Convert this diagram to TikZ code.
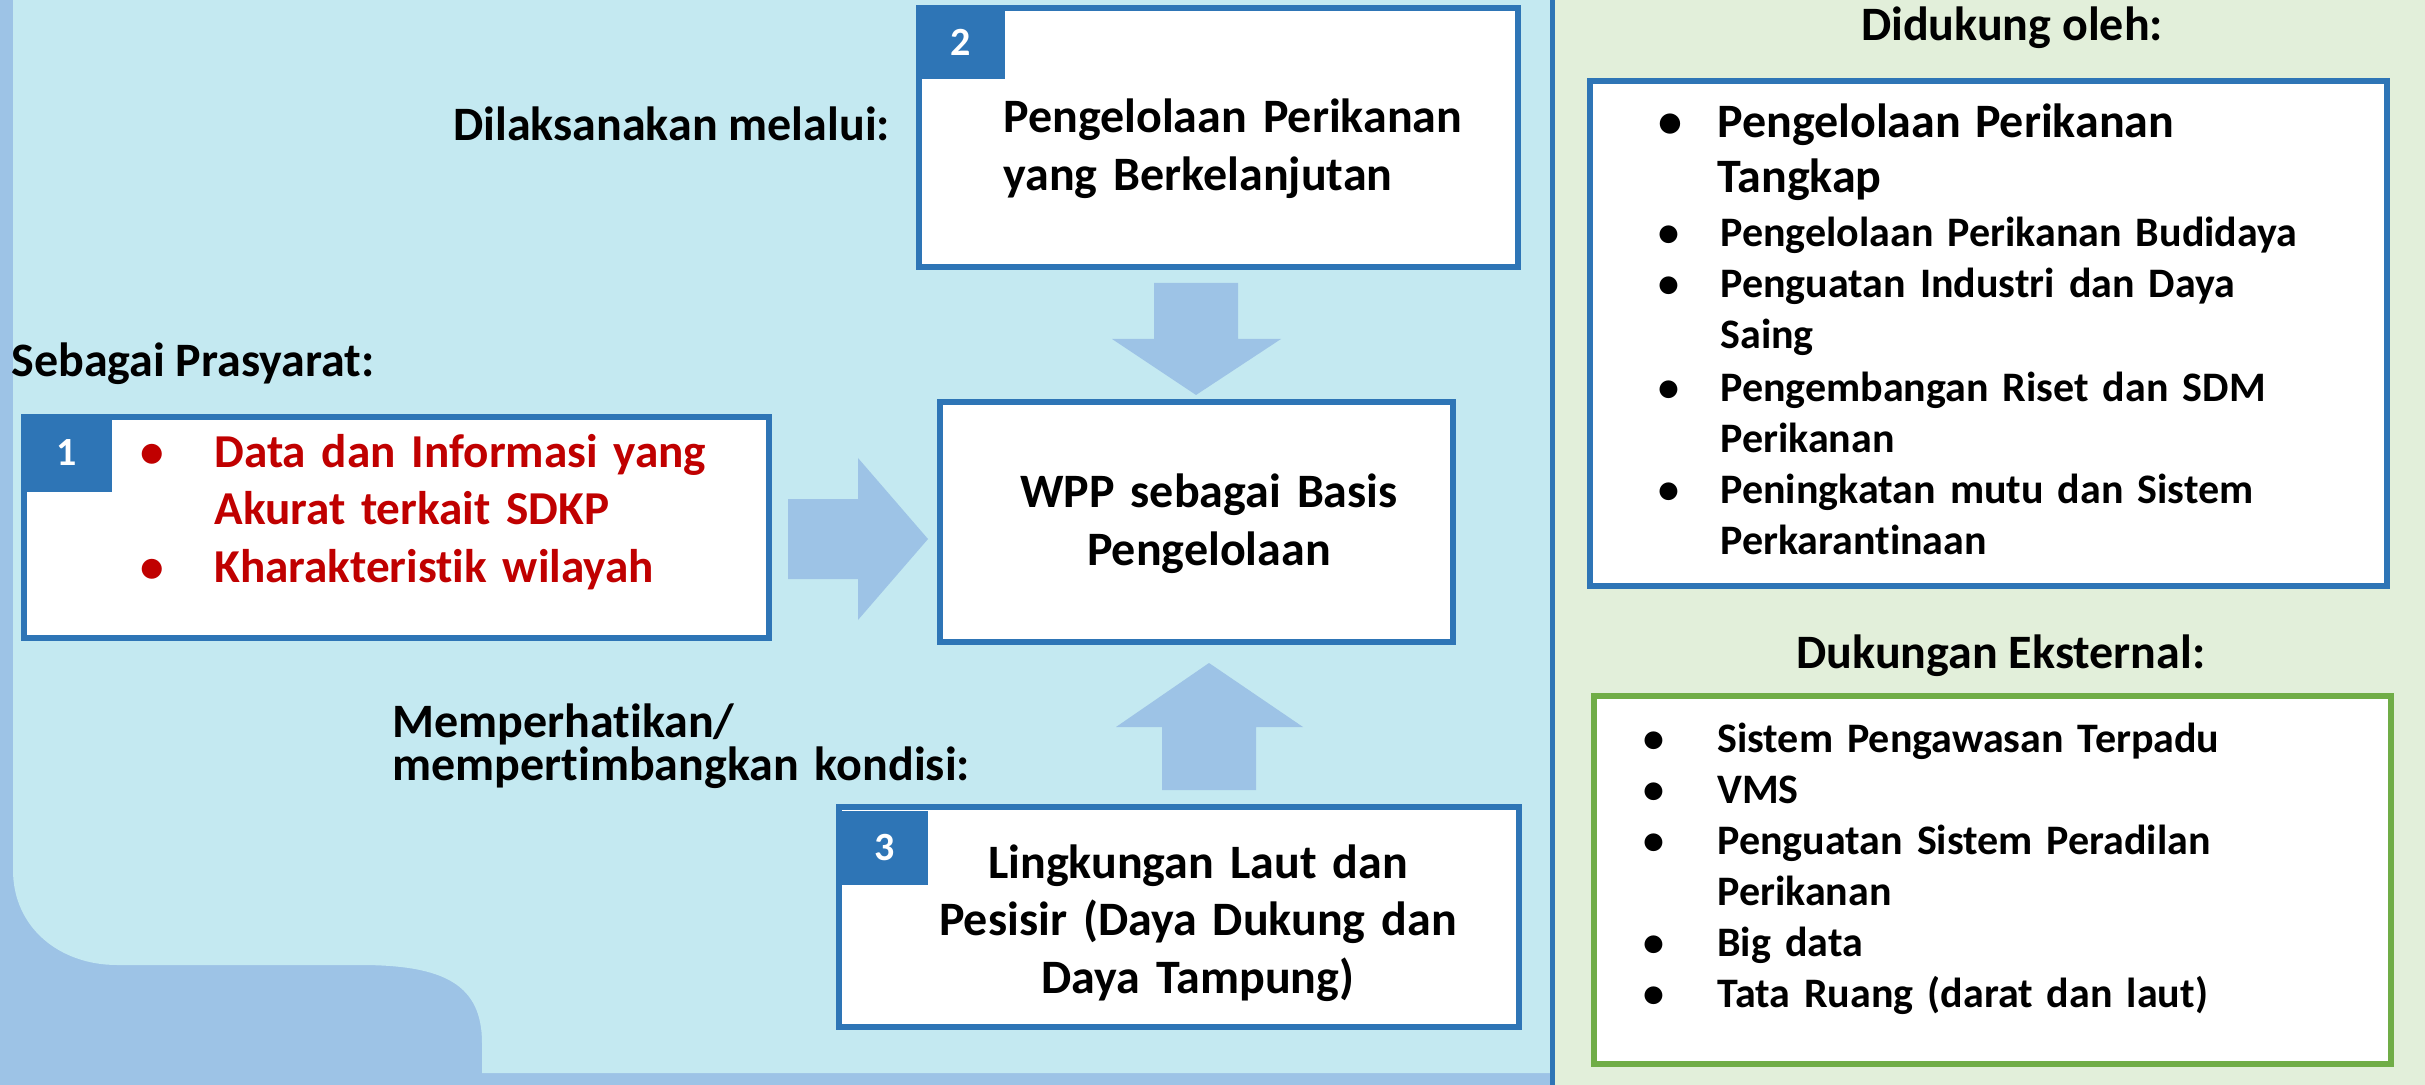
\documentclass[tikz,border=0pt]{standalone}
\usepackage{fontspec}
\setmainfont{Carlito}[Ligatures=NoCommon]
\definecolor{cyanbg}{HTML}{C4E9F1}
\definecolor{stripblue}{HTML}{9DC3E6}
\definecolor{boxblue}{HTML}{2E75B6}
\definecolor{panelgreen}{HTML}{E2EFDA}
\definecolor{boxgreen}{HTML}{70AD47}
\definecolor{redtext}{HTML}{C00000}
\tikzset{
  mybox/.style={draw=boxblue, line width=3pt, fill=white, inner sep=0pt},
  badgebox/.style={fill=boxblue, inner sep=0pt, text=white, font=\fontsize{20}{24}\selectfont\bfseries},
  lbl/.style={inner sep=0pt, text=black, font=\fontsize{24}{29}\selectfont\bfseries},
  blockarrow/.style={fill=stripblue},
}
\begin{document}
\begin{tikzpicture}[x=0.5pt,y=-0.5pt]
\useasboundingbox (0,0) rectangle (2425,1085);
% backgrounds
\fill[stripblue] (0,0) rectangle (1552,1085);
\fill[cyanbg] (13,0) -- (13,870) .. controls (13,928) and (60,965) .. (117,965) -- (360,965) .. controls (445,965) and (482,985) .. (482,1043) -- (482,1073) -- (1552,1073) -- (1552,0) -- cycle;
\fill[panelgreen] (1552,0) rectangle (2425,1085);
\draw[boxblue, line width=2.5pt] (1552,0) -- (1552,1085);
% block arrows
\fill[blockarrow] (788,499) -- (858,499) -- (858,458) -- (928,539) -- (858,620) -- (858,579) -- (788,579) -- cycle;
\fill[blockarrow] (1154,283) -- (1238,283) -- (1238,339) -- (1281,339) -- (1196,395) -- (1112,339) -- (1154,339) -- cycle;
\fill[blockarrow] (1209,663) -- (1303,727) -- (1256,727) -- (1256,790) -- (1162,790) -- (1162,727) -- (1116,727) -- cycle;
% boxes
\node[mybox, minimum width=372.5pt, minimum height=110.5pt] (b1) at (396.5,527.5) {};
\node[mybox, minimum width=299.5pt, minimum height=129.5pt] (b2) at (1218.5,137.5) {};
\node[mybox, minimum width=256.5pt, minimum height=120pt] (wpp) at (1196.5,522) {};
\node[mybox, minimum width=340pt, minimum height=110pt] (b3) at (1179,917) {};
\node[mybox, minimum width=398.5pt, minimum height=252.5pt] (bA) at (1988.5,333.5) {};
\node[mybox, draw=boxgreen, minimum width=398.5pt, minimum height=184pt] (bB) at (1992.5,880) {};
% badges
\node[badgebox, minimum width=45.5pt, minimum height=39pt] (g1) at (66.5,453) {1};
\node[badgebox, minimum width=44.5pt, minimum height=37pt] (g2) at (960.5,42) {2};
\node[badgebox, minimum width=43pt, minimum height=37pt] (g3) at (885,848) {3};
% labels
\node[lbl, anchor=base west] (tdil) at (453,141) {Dilaksanakan melalui:};
\node[lbl, anchor=base west] (tseb) at (11,377) {Sebagai Prasyarat:};
\node[lbl, anchor=base west, text width=320pt, align=left, font=\fontsize{24}{19.5}\selectfont\bfseries] (tmem) at (392,737) {\lineskiplimit=-100pt Memperhatikan/\\mempertimbangkan kondisi:};
\node[lbl, anchor=base west, text width=300pt, align=left, text=redtext, font=\fontsize{23.6}{28.75}\selectfont\bfseries] (l1) at (140,467) {\makebox[37pt][l]{•}Data dan Informasi yang\\\hspace*{37pt}Akurat terkait SDKP\\\makebox[37pt][l]{•}Kharakteristik wilayah};
\node[lbl, anchor=base west, text width=260pt, align=left] (t2) at (1003,133) {Pengelolaan Perikanan\\yang Berkelanjutan};
\node[lbl, anchor=base, text width=240pt, align=center] (tw) at (1209,507) {WPP sebagai Basis\\Pengelolaan};
\node[lbl, anchor=base, text width=300pt, align=center, font=\fontsize{24}{28.75}\selectfont\bfseries] (t3) at (1198,878) {Lingkungan Laut dan\\Pesisir (Daya Dukung dan\\Daya Tampung)};
\node[lbl, anchor=base] (tA) at (2012,41) {Didukung oleh:};
\node[lbl, anchor=base] (tB) at (2001,668) {Dukungan Eksternal:};
\node[lbl, anchor=base west, text width=380pt, align=left, font=\fontsize{21}{25.5}\selectfont\bfseries] (lA) at (1658,138) {{\fontsize{24}{27.5}\selectfont\makebox[29.5pt][l]{•}Pengelolaan Perikanan\\[2pt]\hspace*{29.5pt}Tangkap}\\[1.5pt]
\makebox[31pt][l]{•}Pengelolaan Perikanan Budidaya\\
\makebox[31pt][l]{•}Penguatan Industri dan Daya\\
\hspace*{31pt}Saing\\[1pt]
\makebox[31pt][l]{•}Pengembangan Riset dan SDM\\
\hspace*{31pt}Perikanan\\
\makebox[31pt][l]{•}Peningkatan mutu dan Sistem\\
\hspace*{31pt}Perkarantinaan};
\node[lbl, anchor=base west, text width=380pt, align=left, font=\fontsize{21}{25.5}\selectfont\bfseries] (lB) at (1643,752) {\makebox[37pt][l]{•}Sistem Pengawasan Terpadu\\
\makebox[37pt][l]{•}VMS\\
\makebox[37pt][l]{•}Penguatan Sistem Peradilan\\
\hspace*{37pt}Perikanan\\
\makebox[37pt][l]{•}Big data\\
\makebox[37pt][l]{•}Tata Ruang (darat dan laut)};
\end{tikzpicture}
\end{document}
